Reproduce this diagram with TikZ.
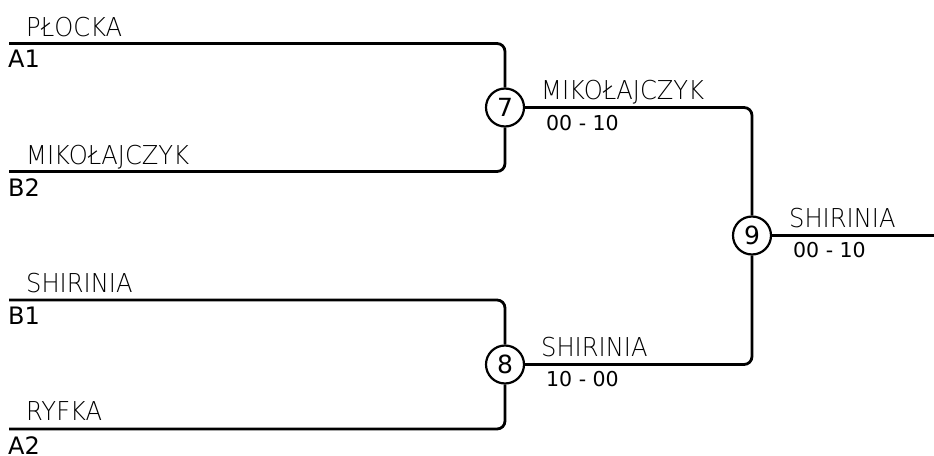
\documentclass[tikz,border=0pt]{standalone}
\usepackage{fontspec}
\setmainfont{DejaVu Sans}
\newfontfamily\thinfont[FakeStretch=0.93]{DejaVu Sans ExtraLight}
\begin{document}
\begin{tikzpicture}[x=1pt,y=-1pt,
  conn/.style={line width=2.8pt,rounded corners=8pt},
  matchnode/.style={circle,draw,line width=2.2pt,fill=white,minimum size=38pt,inner sep=0pt,font=\fontsize{25}{25}\selectfont},
  namelbl/.style={anchor=base west,inner sep=0pt,font=\thinfont\fontsize{26}{26}\selectfont},
  seedlbl/.style={anchor=base west,inner sep=0pt,font=\fontsize{24}{24}\selectfont},
  scorelbl/.style={anchor=base west,inner sep=0pt,font=\fontsize{20.5}{20.5}\selectfont}]
\useasboundingbox (0,0) rectangle (934,455);
% line starts
\coordinate (a1) at (9,43.5);
\coordinate (b2) at (9,171.5);
\coordinate (b1) at (9,300);
\coordinate (a2) at (9,429);
\coordinate (out) at (934,235.5);
% matches
\node[matchnode] (m7) at (505,107.5) {7};
\node[matchnode] (m8) at (505,364.5) {8};
\node[matchnode] (m9) at (752,235.5) {9};
% connectors
\draw[conn] (a1) -| (m7.north);
\draw[conn] (b2) -| (m7.south);
\draw[conn] (b1) -| (m8.north);
\draw[conn] (a2) -| (m8.south);
\draw[conn] (m7.east) -| (m9.north);
\draw[conn] (m8.east) -| (m9.south);
\draw[conn] (m9.east) -- (out);
% first round labels
\node[namelbl] (n1) at (26,36.5) {PŁOCKA};
\node[seedlbl] (s1) at (8,67) {A1};
\node[namelbl] (n2) at (26,164.5) {MIKOŁAJCZYK};
\node[seedlbl] (s2) at (8,196) {B2};
\node[namelbl] (n3) at (26,292.5) {SHIRINIA};
\node[seedlbl] (s3) at (8,324) {B1};
\node[namelbl] (n4) at (26,420.5) {RYFKA};
\node[seedlbl] (s4) at (8,454) {A2};
% later rounds
\node[namelbl] (w7) at (541,99) {MIKOŁAJCZYK};
\node[scorelbl] (r7) at (546,130) {00 - 10};
\node[namelbl] (w8) at (541,356.5) {SHIRINIA};
\node[scorelbl] (r8) at (546,386) {10 - 00};
\node[namelbl] (w9) at (789,227) {SHIRINIA};
\node[scorelbl] (r9) at (793,257) {00 - 10};
\end{tikzpicture}
\end{document}
